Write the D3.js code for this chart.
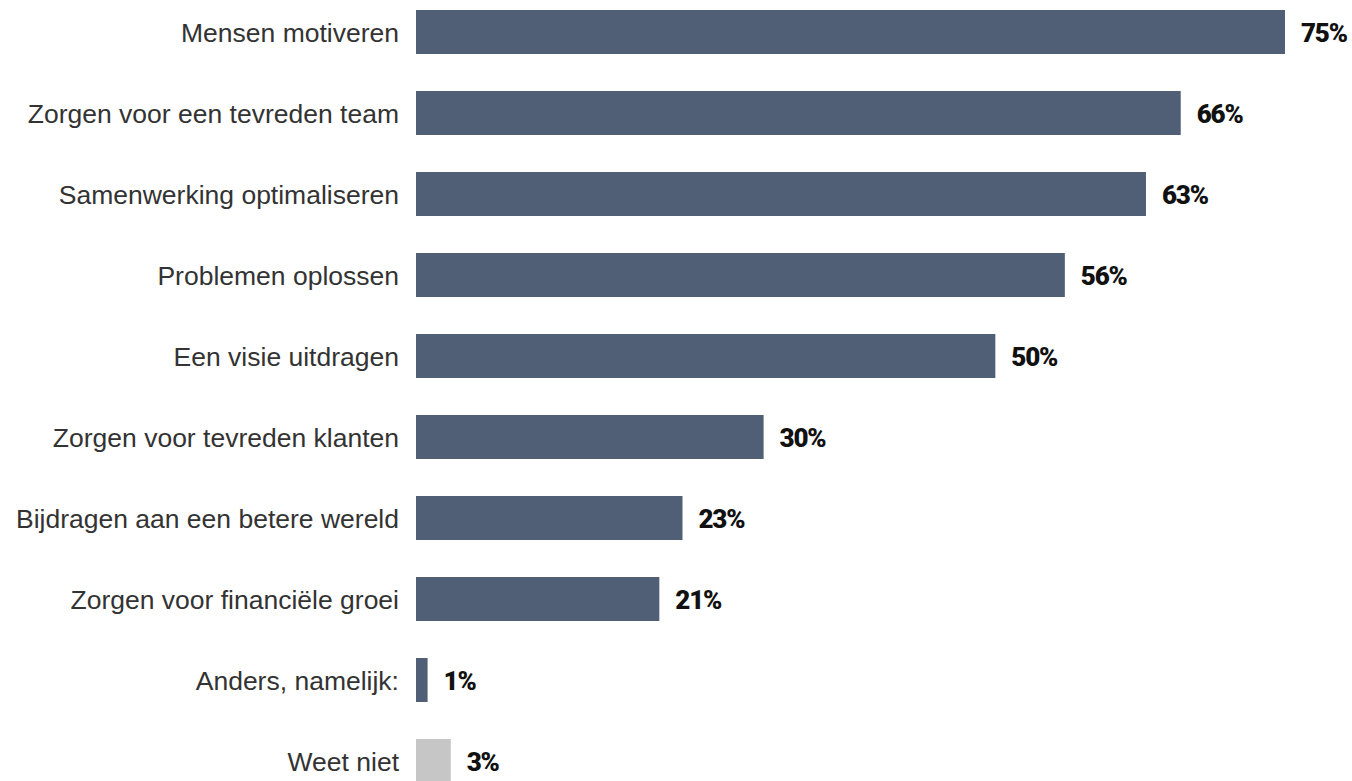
<!DOCTYPE html>
<html>
<head>
<meta charset="utf-8">
<script src="https://cdn.jsdelivr.net/npm/d3@7"></script>
<style>
  html, body { margin: 0; padding: 0; background: #fff; }
  svg { display: block; }
</style>
</head>
<body>
<svg id="chart" width="1352" height="781"></svg>
<script>
const categories = [
  "Mensen motiveren",
  "Zorgen voor een tevreden team",
  "Samenwerking optimaliseren",
  "Problemen oplossen",
  "Een visie uitdragen",
  "Zorgen voor tevreden klanten",
  "Bijdragen aan een betere wereld",
  "Zorgen voor financiële groei",
  "Anders, namelijk:",
  "Weet niet"
];
const values = [75, 66, 63, 56, 50, 30, 23, 21, 1, 3];
const greyCategories = ["Weet niet"];

const svg = d3.select("#chart");

const x = d3.scaleLinear().domain([0, 75]).range([416, 1285]);
const y = d3.scaleBand()
  .domain(categories)
  .range([10, 783])
  .paddingInner(37 / 81)
  .paddingOuter(0);

const rows = categories.map((c, i) => ({ cat: c, val: values[i] }));

svg.selectAll("rect.bar")
  .data(rows)
  .join("rect")
  .attr("class", "bar")
  .attr("x", x(0))
  .attr("y", d => y(d.cat))
  .attr("width", d => x(d.val) - x(0))
  .attr("height", y.bandwidth())
  .attr("fill", d => greyCategories.includes(d.cat) ? "#c6c6c6" : "#505f75");

// category labels on the left
const yAxis = d3.axisLeft(y).tickSize(0).tickPadding(17);
const axisG = svg.append("g")
  .attr("transform", `translate(${x(0)},2)`)
  .call(yAxis);
axisG.select(".domain").remove();
axisG.selectAll("text")
  .attr("fill", "#333333")
  .style("font-family", "'Liberation Sans', Arial, sans-serif")
  .style("font-size", "26.5px");

// value labels
svg.selectAll("text.val")
  .data(rows)
  .join("text")
  .attr("class", "val")
  .attr("x", d => x(d.val) + 16)
  .attr("y", d => y(d.cat) + y.bandwidth() / 2 + 1)
  .attr("dy", "0.35em")
  .attr("fill", "#111111")
  .style("font-family", "Roboto, sans-serif")
  .style("font-weight", "900")
  .style("font-size", "26px")
  .style("letter-spacing", "-1.2px")
  .text(d => d.val + "%");
</script>
</body>
</html>
